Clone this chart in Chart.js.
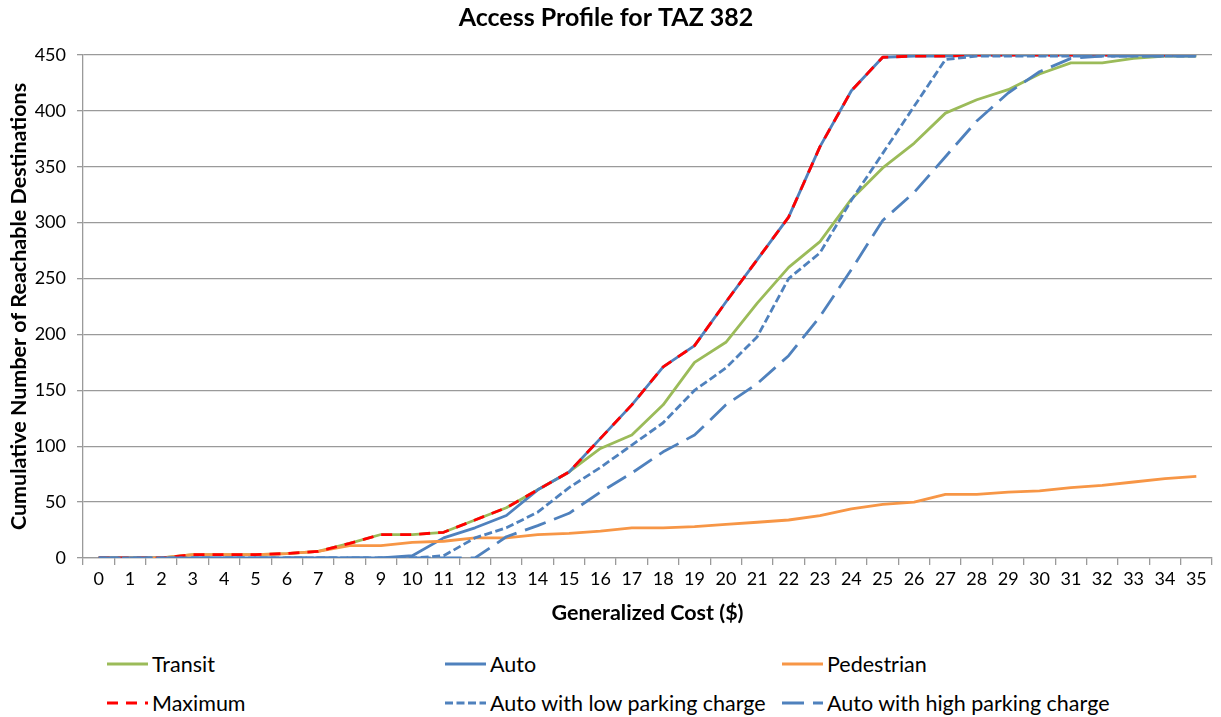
<!DOCTYPE html>
<html>
<head>
<meta charset="utf-8">
<title>Access Profile for TAZ 382</title>
<script src="https://cdn.jsdelivr.net/npm/chart.js@4.4.0/dist/chart.umd.min.js"></script>
<style>
    body { margin: 0; background: #fff; font-family: Lato, "Open Sans", sans-serif; }
    #wrap { position: relative; width: 1221px; height: 717px; overflow: hidden; }
    #accessChart { position: absolute; left: 0; top: 0; }
    .legend-item { position: absolute; display: flex; align-items: center; font-size: 21.5px; color: #000; white-space: nowrap; height: 26px; }
    .legend-item svg { margin-right: 4px; }
</style>
</head>
<body>
<div id="wrap">
    <canvas id="accessChart" width="1221" height="640"></canvas>
    <div id="legend"></div>
</div>
<script>
// Generalized cost categories ($)
const costs = Array.from({ length: 36 }, (_, i) => String(i));

// Cumulative number of reachable destinations
const transit    = [0, 0, 0, 3, 3, 3, 4, 6, 13, 21, 21, 23, 34, 45, 61, 77, 98, 110, 137, 175, 193, 228, 260, 283, 321, 349, 371, 398, 410, 419, 433, 443, 443, 447, 449, 449];
const auto       = [0, 0, 0, 0, 0, 0, 0, 0, 0, 0, 2, 18, 27, 38, 61, 77, 107, 137, 171, 190, 229, 267, 305, 368, 418, 448, 449, 449, 450, 450, 450, 450, 450, 450, 450, 450];
const pedestrian = [0, 0, 0, 3, 3, 3, 4, 6, 11, 11, 14, 15, 18, 18, 21, 22, 24, 27, 27, 28, 30, 32, 34, 38, 44, 48, 50, 57, 57, 59, 60, 63, 65, 68, 71, 73];
const maximum    = [0, 0, 0, 3, 3, 3, 4, 6, 13, 21, 21, 23, 34, 45, 61, 77, 107, 137, 171, 190, 229, 267, 305, 368, 418, 448, 449, 449, 450, 450, 450, 450, 450, 450, 450, 450];
const lowParking = [0, 0, 0, 0, 0, 0, 0, 0, 0, 0, 0, 2, 18, 27, 41, 63, 81, 101, 121, 150, 170, 198, 250, 273, 320, 362, 404, 446, 449, 449, 449, 449, 449, 449, 449, 449];
const highParking = [0, 0, 0, 0, 0, 0, 0, 0, 0, 0, 0, 0, 0, 19, 29, 40, 59, 76, 95, 110, 137, 156, 181, 216, 258, 302, 327, 359, 391, 416, 435, 447, 449, 449, 449, 449];

const FONT = "Lato, 'Open Sans', sans-serif";
const GRID = "#9a9a9a";

function series(label, data, color, dash, order) {
    return {
        label: label,
        data: data,
        borderColor: color,
        backgroundColor: color,
        borderWidth: 2.8,
        borderDash: dash,
        borderJoinStyle: "round",
        pointRadius: 0,
        pointHoverRadius: 0,
        fill: false,
        tension: 0,
        order: order
    };
}

const datasets = [
    series("Transit", transit, "#9BBB59", [], 6),
    series("Auto", auto, "#4F81BD", [], 5),
    series("Pedestrian", pedestrian, "#F79646", [], 4),
    series("Maximum", maximum, "#FF0000", [11, 8], 3),
    series("Auto with low parking charge", lowParking, "#4F81BD", [8, 3.5], 2),
    series("Auto with high parking charge", highParking, "#4F81BD", [22, 9], 1)
];

const ctx = document.getElementById("accessChart").getContext("2d");
const accessChart = new Chart(ctx, {
    type: "line",
    data: { labels: costs, datasets: datasets },
    options: {
        responsive: false,
        animation: false,
        layout: { padding: { left: 0, right: 9, top: 0, bottom: 0 } },
        plugins: {
            legend: { display: false },
            tooltip: { enabled: false },
            title: {
                display: true,
                text: "Access Profile for TAZ 382",
                color: "#000",
                font: { family: FONT, size: 25, weight: "bold" },
                padding: { top: 3, bottom: 22 }
            }
        },
        scales: {
            x: {
                offset: true,
                grid: { offset: true, drawOnChartArea: false, color: GRID, lineWidth: 1.3, tickLength: 7 },
                border: { color: GRID, width: 1.3 },
                ticks: { color: "#000", autoSkip: false, maxRotation: 0, padding: 3, font: { family: FONT, size: 18 } },
                title: {
                    display: true,
                    text: "Generalized Cost ($)",
                    color: "#000",
                    font: { family: FONT, size: 21.5, weight: "bold" },
                    padding: { top: 0, bottom: 14 }
                },
                afterFit: function (scale) { scale.height = 82; }
            },
            y: {
                min: 0,
                max: 450,
                grid: { color: GRID, lineWidth: 1.3, tickLength: 6 },
                border: { color: GRID, width: 1.3 },
                ticks: { stepSize: 50, color: "#000", padding: 11, font: { family: FONT, size: 18 } },
                title: {
                    display: true,
                    text: "Cumulative Number of Reachable Destinations",
                    color: "#000",
                    font: { family: FONT, size: 21.5, weight: "bold" },
                    padding: { top: 6, bottom: 0 }
                },
                afterFit: function (scale) { scale.width = 83; }
            }
        }
    }
});

// Legend laid out in three columns, two rows, like the original
const legendSpots = [[107, 651], [445, 651], [782, 651], [107, 690], [445, 690], [782, 690]];
const legendBox = document.getElementById("legend");
datasets.forEach(function (ds, i) {
    const item = document.createElement("div");
    item.className = "legend-item";
    item.style.left = legendSpots[i][0] + "px";
    item.style.top = legendSpots[i][1] + "px";
    const dash = ds.borderDash.length ? ds.borderDash.join(" ") : "none";
    item.innerHTML =
        '<svg width="41" height="6"><line x1="0" y1="3" x2="41" y2="3" stroke="' + ds.borderColor +
        '" stroke-width="3" stroke-dasharray="' + dash + '"/></svg><span>' + ds.label + "</span>";
    legendBox.appendChild(item);
});
</script>
</body>
</html>
